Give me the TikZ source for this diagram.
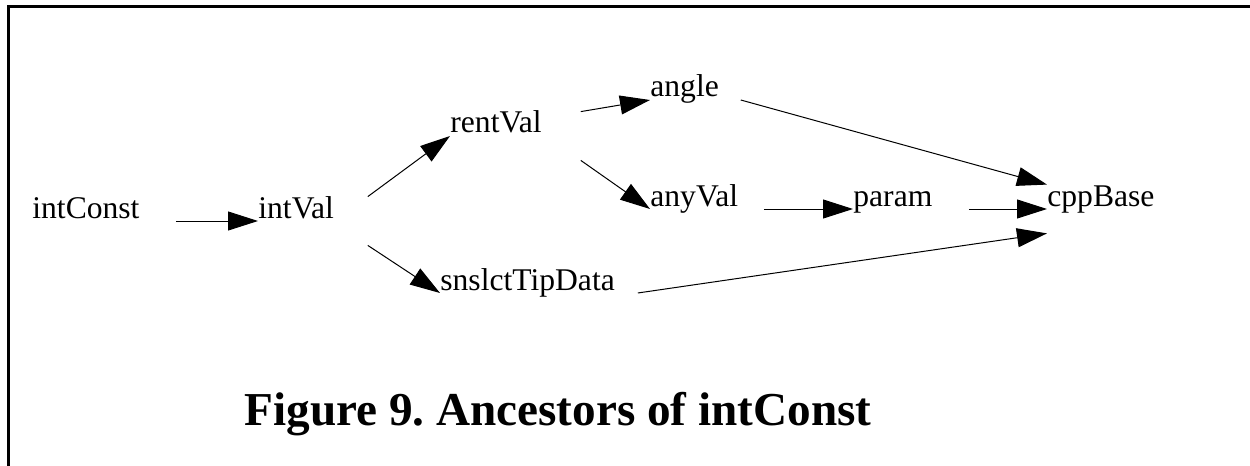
\documentclass[tikz,border=0pt]{standalone}
\usepackage{fontspec}
\setmainfont{Liberation Serif}
\usetikzlibrary{arrows.meta}
\frenchspacing

\begin{document}
\begin{tikzpicture}[
    x=0.5pt, y=-0.5pt,
    % Class names (box is wider than the text, text on the left)
    cls/.style={inner sep=0pt, anchor=base west, align=left,
        text height=10.5pt, text depth=13.5pt, font=\fontsize{15.8}{18}\selectfont},
    % Arrow styles
    arrow/.style={-{Triangle[length=15pt,width=9.5pt]}, line width=0.5pt},
    caption/.style={anchor=base, inner sep=0pt, font=\fontsize{23.6}{28}\selectfont\bfseries}
]
    \useasboundingbox (0,0) rectangle (1250,466);

    % Frame (top and left)
    \draw[line width=1.5pt] (8,472) -- (8,6) -- (1256,6);

    % Classes
    \node[cls, text width=71.5pt] (intConst) at (32,218) {intConst};
    \node[cls, text width=54.5pt] (intVal) at (258,218) {intVal};
    \node[cls, text width=65pt] (rentVal) at (450,133) {rentVal};
    \node[cls, text width=98.5pt] (snslctTipData) at (440,290) {snslctTipData};
    \node[cls, text width=45pt] (angle) at (650,97) {angle};
    \node[cls, text width=56.5pt] (anyVal) at (650,206) {anyVal};
    \node[cls, text width=57.5pt] (param) at (853,206) {param};
    \node[cls, text width=70pt] (cppBase) at (1047,206) {cppBase};

    % Ancestor links
    \draw[arrow] (intConst.east) -- (intVal.west);
    \draw[arrow] (intVal.north east) -- (rentVal.west);
    \draw[arrow] (intVal.south east) -- (snslctTipData.west);
    \draw[arrow] (rentVal.north east) -- (angle.west);
    \draw[arrow] (rentVal.south east) -- (anyVal.west);
    \draw[arrow] (anyVal.east) -- (param.west);
    \draw[arrow] (angle.east) -- (cppBase.north west);
    \draw[arrow] (param.east) -- (cppBase.west);
    \draw[arrow] (snslctTipData.east) -- (cppBase.south west);

    % Caption
    \node[caption] (title) at (558,425) {Figure 9. Ancestors of intConst};
\end{tikzpicture}
\end{document}
